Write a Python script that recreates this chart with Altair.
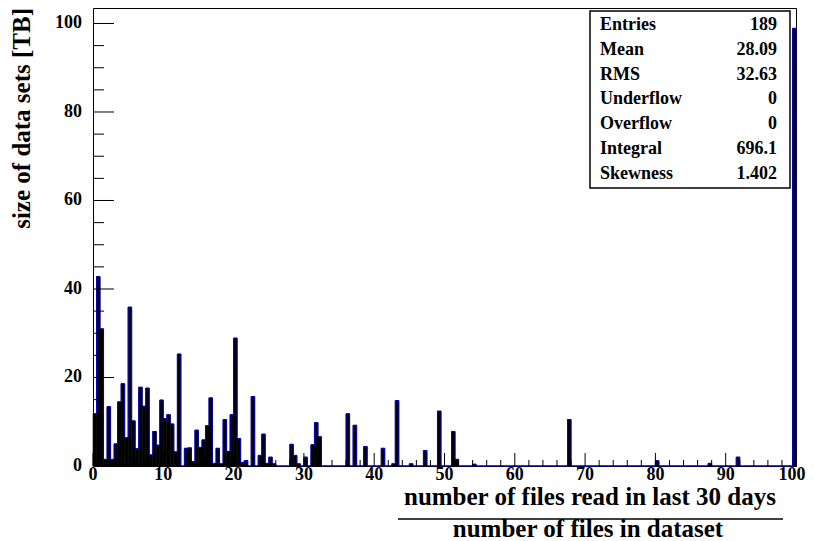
import altair as alt
import pandas as pd

# ---- histogram data (bin lower edge, bin width 0.5) ----
bin_lo = [0, 0.5, 1, 1.5, 2, 2.5, 3, 3.5, 4, 4.5, 5, 5.5, 6, 6.5, 7, 7.5, 8, 8.5, 9, 9.5,
          10, 10.5, 11, 11.5, 12, 13, 13.5, 14, 14.5, 15, 15.5, 16, 16.5, 17, 17.5, 18, 18.5,
          19, 19.5, 20, 20.5, 21, 21.5, 22.5, 23.5, 24, 24.5, 25, 25.5, 28, 28.5, 29, 30,
          31, 31.5, 32, 36, 37, 38.5, 41, 42.5, 43, 45, 47, 49, 51, 51.5, 54, 67.5, 80,
          87.5, 91.5, 99.5]
size_tb = [11.8, 42.8, 31.0, 1.5, 13.4, 1.5, 5.0, 14.5, 18.6, 6.4, 35.9, 10.2, 3.9, 17.8, 13.5, 17.6, 2.5, 7.8, 4.7, 14.9,
           10.7, 11.6, 9.5, 3.2, 25.3, 4.0, 4.1, 1.0, 8.1, 4.2, 5.9, 9.1, 15.4, 0.6, 4.0, 0.5, 10.5,
           3.3, 11.6, 28.9, 6.2, 0.8, 1.2, 15.7, 2.4, 7.2, 0.6, 2.0, 0.5, 4.9, 2.4, 0.5, 2.0,
           4.8, 9.8, 6.6, 11.8, 9.2, 4.4, 4.0, 0.5, 14.8, 0.5, 3.5, 12.4, 7.8, 1.5, 0.4, 10.5, 1.2,
           0.6, 2.0, 98.9]

stat_names = ["Entries", "Mean", "RMS", "Underflow", "Overflow", "Integral", "Skewness"]
stat_values = ["189", "28.09", "32.63", "0", "0", "696.1", "1.402"]

x_major = [0, 10, 20, 30, 40, 50, 60, 70, 80, 90, 100]
x_minor = [v for v in range(0, 101, 2) if v % 10 != 0]
y_major = [0, 20, 40, 60, 80, 100]
y_minor = [v for v in range(0, 101, 5) if v % 20 != 0]

x_title_1 = "number of files read in last 30 days"
x_title_2 = "number of files in dataset"
y_title = "size of data sets [TB]"

# ---- layout ----
W, H = 703, 458
FONT = "Liberation Serif"
XS = alt.Scale(domain=[0, 100], nice=False, zero=False)
YS = alt.Scale(domain=[0, 103.5], nice=False, zero=False)

lookup = dict(zip(bin_lo, size_tb))
all_lo = [i * 0.5 for i in range(200)]
hist = pd.DataFrame({"lo": all_lo,
                     "hi": [v + 0.5 for v in all_lo],
                     "tb": [lookup.get(v, 0.0) for v in all_lo]})
line_df = pd.concat([hist[["lo", "tb"]], pd.DataFrame({"lo": [100.0], "tb": [0.0]})],
                    ignore_index=True)

bars = alt.Chart(hist).mark_rect(color="black", stroke="black", strokeWidth=0.6).encode(
    x=alt.X("lo:Q", scale=XS, axis=None),
    x2="hi:Q",
    y=alt.Y("tb:Q", scale=YS, axis=None),
    y2=alt.datum(0),
)

outline = alt.Chart(line_df).mark_line(interpolate="step-after", color="#0000c8",
                                       strokeWidth=1).encode(
    x=alt.X("lo:Q", scale=XS, axis=None),
    y=alt.Y("tb:Q", scale=YS, axis=None),
)


def xticks(vals, length):
    return alt.Chart(pd.DataFrame({"v": vals})).mark_rule(color="black", strokeWidth=1).encode(
        x=alt.X("v:Q", scale=XS, axis=None),
        y=alt.value(H), y2=alt.value(H - length))


def yticks(vals, length):
    return alt.Chart(pd.DataFrame({"v": vals})).mark_rule(color="black", strokeWidth=1).encode(
        y=alt.Y("v:Q", scale=YS, axis=None),
        x=alt.value(0), x2=alt.value(length))


label_style = dict(font=FONT, fontWeight="bold", fontSize=18, color="black")


def xlabels(vals, dx):
    return alt.Chart(pd.DataFrame({"v": vals})).mark_text(
        align="center", baseline="alphabetic", dx=dx, **label_style).encode(
        x=alt.X("v:Q", scale=XS, axis=None), y=alt.value(H + 14),
        text=alt.Text("v:Q", format="d"))


y_labels = alt.Chart(pd.DataFrame({"v": y_major})).mark_text(
    align="right", baseline="middle", **label_style).encode(
    y=alt.Y("v:Q", scale=YS, axis=None), x=alt.value(-11),
    text=alt.Text("v:Q", format="d"))

one = pd.DataFrame({"k": [0]})

stat_box = alt.Chart(one).mark_rect(fill="white", stroke="black", strokeWidth=1.5).encode(
    x=alt.value(497), x2=alt.value(697), y=alt.value(3), y2=alt.value(180))

stats = pd.DataFrame({"name": stat_names, "val": stat_values, "row": list(range(len(stat_names)))})
stat_text_style = dict(font=FONT, fontWeight="bold", fontSize=18, color="black", baseline="middle")
stat_names_layer = alt.Chart(stats).transform_calculate(py="17 + 24.8 * datum.row").mark_text(
    align="left", **stat_text_style).encode(
    x=alt.value(507), y=alt.Y("py:Q", scale=None, axis=None), text="name:N")
stat_vals_layer = alt.Chart(stats).transform_calculate(py="17 + 24.8 * datum.row").mark_text(
    align="right", **stat_text_style).encode(
    x=alt.value(684), y=alt.Y("py:Q", scale=None, axis=None), text="val:N")

title_style = dict(font=FONT, fontWeight="bold", fontSize=25, color="black")
xt1 = alt.Chart(one).mark_text(align="center", baseline="alphabetic", **title_style).encode(
    x=alt.value(497), y=alt.value(497), text=alt.value(x_title_1))
xbar = alt.Chart(one).mark_rule(color="black", strokeWidth=1.5).encode(
    x=alt.value(305), x2=alt.value(690), y=alt.value(511))
xt2 = alt.Chart(one).mark_text(align="center", baseline="alphabetic", **title_style).encode(
    x=alt.value(495), y=alt.value(529), text=alt.value(x_title_2))
yt = alt.Chart(one).mark_text(angle=270, align="right", baseline="middle", **title_style).encode(
    x=alt.value(-71), y=alt.value(0), text=alt.value(y_title))

chart = alt.layer(
    bars, outline,
    xticks(x_major, 13), xticks(x_minor, 6),
    yticks(y_major, 21), yticks(y_minor, 11),
    xlabels(x_major[:-1], 0), xlabels(x_major[-1:], -4), y_labels,
    stat_box, stat_names_layer, stat_vals_layer,
    xt1, xbar, xt2, yt,
).properties(
    width=W, height=H,
    autosize="none",
    padding={"left": 85, "top": 0, "right": 10, "bottom": 80},
    background="white",
).configure_view(stroke="black", strokeWidth=1)

chart.save("out.html", embed_options={"renderer": "svg", "actions": False})
